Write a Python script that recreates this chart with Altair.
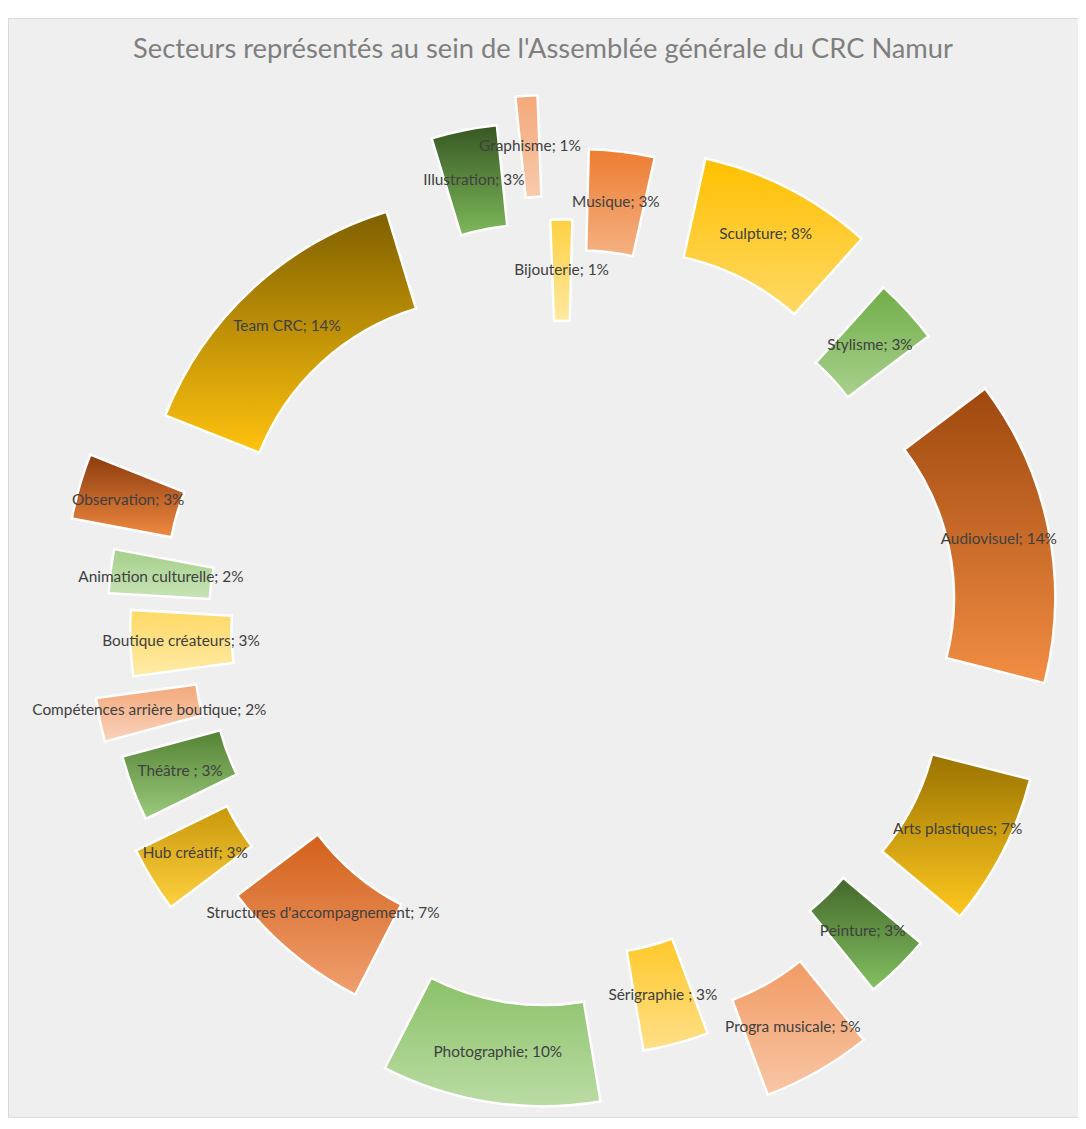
import math
import altair as alt
import pandas as pd

# ---- data (clockwise from the top) ----
categories = ["Bijouterie", "Musique", "Sculpture", "Stylisme", "Audiovisuel",
              "Arts plastiques", "Peinture", "Progra musicale", "Sérigraphie ",
              "Photographie", "Structures d'accompagnement", "Hub créatif",
              "Théâtre ", "Compétences arrière boutique", "Boutique créateurs",
              "Animation culturelle", "Observation", "Team CRC", "Illustration",
              "Graphisme"]
values = [1, 3, 8, 3, 14, 7, 3, 5, 3, 10, 7, 3, 3, 2, 3, 2, 3, 14, 3, 1]

# ---- styles ----
explode = [61, 133, 147, 121, 149, 148, 132, 167, 86, 136, 79, 138, 115, 128,
           88, 111, 159, 114, 161, 187]
top_colors = ["#FFD143", "#ED7D31", "#FFC000", "#70AD47", "#9E480E", "#997300",
              "#43682B", "#F19B64", "#FFC82A", "#8BC168", "#D2601A", "#C8980A",
              "#548235", "#F4A87A", "#FFD966", "#A5CF8A", "#8B3A0E", "#7F6000",
              "#375623", "#F4A87A"]
bottom_colors = ["#FFE8A0", "#F4B183", "#FFD966", "#A9D18E", "#F28D44", "#FFC820",
                 "#84C062", "#F8C6A5", "#FFE08A", "#BBDCA5", "#F0A070", "#FFD040",
                 "#9BCB7D", "#F9D3BC", "#FFEBA8", "#C8E3B6", "#F08A40", "#FFC20E",
                 "#7DB95A", "#F8CBAD"]

TITLE = "Secteurs représentés au sein de l'Assemblée générale du CRC Namur"
W, H = 1078, 1107
CX, CY = 560, 613
R_OUT, R_IN = 349, 247
R_MID = (R_OUT + R_IN) / 2
ROT = math.radians(-2.2)

df = pd.DataFrame({
    "idx": list(range(len(categories))),
    "cat": categories,
    "value": values,
    "explode": explode,
})
df["label"] = [f"{c}; {v}%" for c, v in zip(categories, values)]

base = (
    alt.Chart(df)
    .transform_window(cum="sum(value)", sort=[alt.SortField("idx")], frame=[None, 0])
    .transform_joinaggregate(total="sum(value)")
    .transform_calculate(
        a0=f"(datum.cum - datum.value) / datum.total * 2 * PI + ({ROT})",
        a1=f"datum.cum / datum.total * 2 * PI + ({ROT})",
    )
    .transform_calculate(mid="(datum.a0 + datum.a1) / 2")
    .transform_calculate(
        cx=f"{CX} + datum.explode * sin(datum.mid)",
        cy=f"{CY} - datum.explode * cos(datum.mid)",
    )
    .transform_calculate(
        lx=f"datum.cx + {R_MID} * sin(datum.mid)",
        ly=f"datum.cy - {R_MID} * cos(datum.mid)",
    )
)

layers = []
for name, c_top, c_bot in zip(categories, top_colors, bottom_colors):
    grad = alt.Gradient(
        gradient="linear",
        stops=[alt.GradientStop(color=c_top, offset=0),
               alt.GradientStop(color=c_bot, offset=1)],
        x1=0, x2=0, y1=0, y2=1,
    )
    layers.append(
        base.transform_filter(alt.datum.cat == name)
        .mark_arc(fill=grad, stroke="white", strokeWidth=2.5,
                  radius=R_OUT, radius2=R_IN)
        .encode(
            x=alt.X("cx:Q", scale=None, axis=None),
            y=alt.Y("cy:Q", scale=None, axis=None),
            theta=alt.Theta("a0:Q", scale=None),
            theta2="a1:Q",
        )
    )

labels = base.mark_text(font="Lato", fontSize=15.5, color="#404040",
                        align="center", baseline="middle").encode(
    x=alt.X("lx:Q", scale=None, axis=None),
    y=alt.Y("ly:Q", scale=None, axis=None),
    text="label:N",
)

chart = (
    alt.layer(*layers, labels)
    .properties(
        width=W, height=H,
        autosize=alt.AutoSizeParams(type="none"),
        padding={"left": 0, "top": 6, "right": 0, "bottom": 0},
        title=alt.TitleParams(TITLE, font="Lato", fontSize=27.5, fontWeight="normal",
                              color="#7F7F7F", anchor="middle", frame="group",
                              offset=-68, baseline="alphabetic"),
    )
    .configure_view(fill="#EFEFEF", stroke="#D9D9D9", strokeWidth=1)
)

chart.save("out.html", embed_options={"renderer": "svg", "actions": False})
